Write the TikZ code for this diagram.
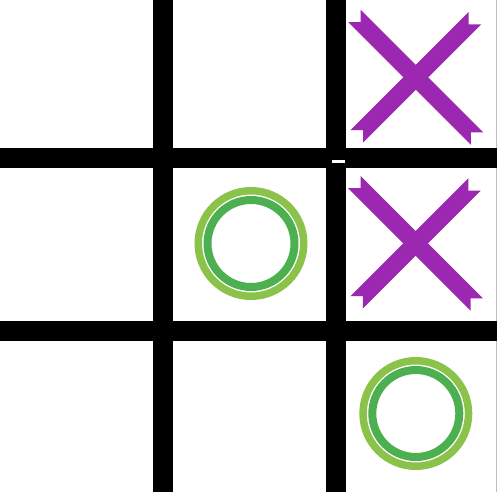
\documentclass[tikz,border=0pt]{standalone}
\usetikzlibrary{calc}
\definecolor{xpurple}{HTML}{9C27B0}
\definecolor{olight}{HTML}{8BC34A}
\definecolor{odark}{HTML}{4CAF50}
\tikzset{
  gridbar/.style={fill=black},
  xmarkfill/.style={fill=xpurple},
  oouter/.style={draw=olight, line width=7.5pt},
  oinner/.style={draw=odark, line width=8pt},
}
\newcommand{\myxmark}[1]{%
  \begin{scope}[shift={#1}]
    \path[xmarkfill] (-55.1,-67.5) -- (67.5,55.1) -- (55.1,55.1) -- (55.1,67.5) -- (-67.5,-55.1) -- (-55.1,-55.1) -- cycle;
    \path[xmarkfill] (65.2,-52.8) -- (-52.8,65.2) -- (-52.8,52.8) -- (-65.2,52.8) -- (52.8,-65.2) -- (52.8,-52.8) -- cycle;
  \end{scope}}
\newcommand{\myomark}[1]{%
  \begin{scope}[shift={#1}]
    \draw[oouter] (0,0) circle[radius=52.75];
    \draw[oinner] (0,0) circle[radius=43.5];
  \end{scope}}
\begin{document}
\begin{tikzpicture}[x=1pt,y=-1pt]
  \useasboundingbox (0,0) rectangle (497,492);
  \fill[white] (0,0) rectangle (497,492);
  \draw[gray!50, line width=0.6pt] (496.7,0) -- (496.7,492);
  % grid
  \path[gridbar] (153,0) rectangle (172.5,492);
  \path[gridbar] (326,0) rectangle (346,492);
  \path[gridbar] (0,147.5) rectangle (497,167.5);
  \path[gridbar] (0,321) rectangle (497,341);
  \fill[white] (332,160) rectangle (345,162.7);
  % marks
  \myxmark{(415.8,77.3)}
  \myxmark{(415.6,243.3)}
  \myomark{(251,243.5)}
  \myomark{(415.8,413.5)}
\end{tikzpicture}
\end{document}
